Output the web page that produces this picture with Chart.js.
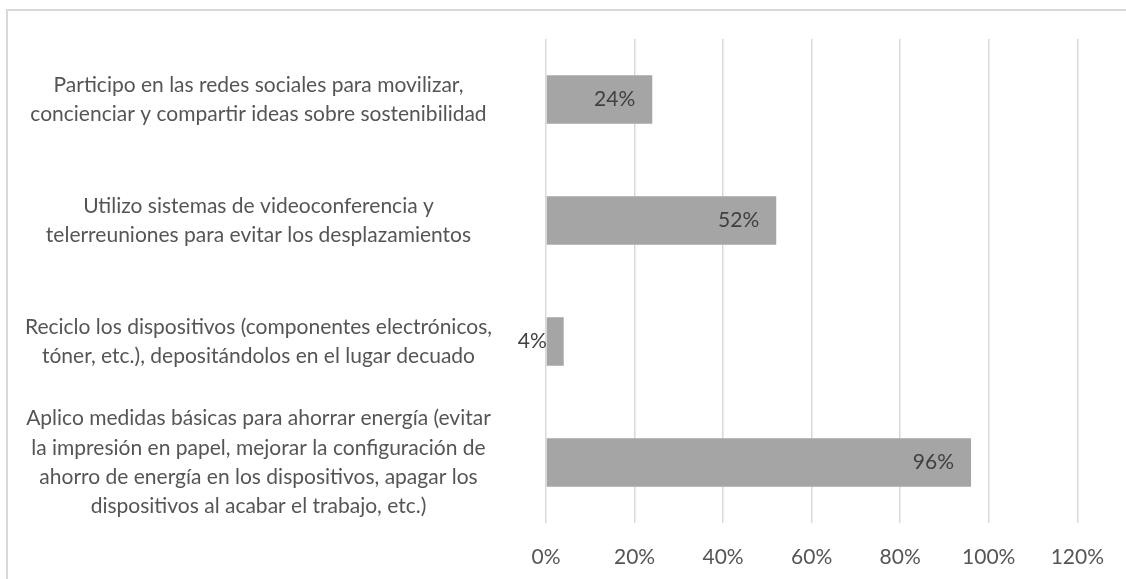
<!DOCTYPE html>
<html lang="es">
<head>
  <meta charset="UTF-8">
  <title>Prácticas de sostenibilidad</title>
  <script src="https://cdn.jsdelivr.net/npm/chart.js"></script>
  <style>
    html,body{margin:0;padding:0;background:#ffffff;overflow:hidden;}
    .frame{position:absolute;left:6px;top:9px;width:2000px;height:2000px;border:2px solid #d9d9d9;}
    #chart{position:absolute;left:0;top:0;}
  </style>
</head>
<body>
  <div class="frame"></div>
  <canvas id="chart" width="1126" height="579"></canvas>
  <script>
    // categories, top to bottom
    const categories = [
      ['Participo en las redes sociales para movilizar,', 'concienciar y compartir ideas sobre sostenibilidad'],
      ['Utilizo sistemas de videoconferencia y', 'telerreuniones para evitar los desplazamientos'],
      ['Reciclo los dispositivos (componentes electrónicos,', 'tóner, etc.), depositándolos en el lugar decuado'],
      ['Aplico medidas básicas para ahorrar energía (evitar', 'la impresión en papel, mejorar la configuración de', 'ahorro de energía en los dispositivos, apagar los', 'dispositivos al acabar el trabajo, etc.)']
    ];
    const values = [24, 52, 4, 96];
    const xTicks = [0, 20, 40, 60, 80, 100, 120];

    const FONT = 'Lato';

    const barLabels = {
      id: 'barLabels',
      afterDatasetsDraw(chart) {
        const ctx = chart.ctx;
        const meta = chart.getDatasetMeta(0);
        ctx.save();
        ctx.font = '21px ' + FONT;
        ctx.fillStyle = '#404040';
        ctx.textAlign = 'right';
        ctx.textBaseline = 'middle';
        meta.data.forEach(function(bar, i) {
          ctx.fillText(values[i] + '%', bar.x - 17, bar.y);
        });
        ctx.restore();
      }
    };

    new Chart(document.getElementById('chart'), {
      type: 'bar',
      data: {
        labels: categories,
        datasets: [{
          data: values,
          backgroundColor: '#a5a5a5',
          borderWidth: 0,
          categoryPercentage: 1,
          barPercentage: 0.4
        }]
      },
      options: {
        indexAxis: 'y',
        responsive: false,
        animation: false,
        layout: {padding: {left: 10, right: 43, top: 39, bottom: 0}},
        plugins: {legend: {display: false}, tooltip: {enabled: false}},
        scales: {
          x: {
            min: 0,
            max: 120,
            afterBuildTicks: function(scale) {
              scale.ticks = xTicks.map(function(v) { return {value: v}; });
            },
            afterFit: function(scale) { scale.height = 56; },
            grid: {color: '#d9d9d9', lineWidth: 1.5, drawTicks: false},
            border: {display: false},
            ticks: {
              padding: 22,
              color: '#555555',
              font: {family: FONT, size: 21},
              callback: function(v) { return v + '%'; }
            }
          },
          y: {
            afterFit: function(scale) {
              scale.width = 536;
              // multi-line labels must not push the plot area in
              scale.paddingTop = 0;
              scale.paddingBottom = 0;
            },
            grid: {display: false, drawTicks: false},
            border: {display: false},
            ticks: {
              crossAlign: 'center',
              padding: 54,
              color: '#555555',
              font: {family: FONT, size: 21, lineHeight: 1.4}
            }
          }
        }
      },
      plugins: [barLabels]
    });
  </script>
</body>
</html>
